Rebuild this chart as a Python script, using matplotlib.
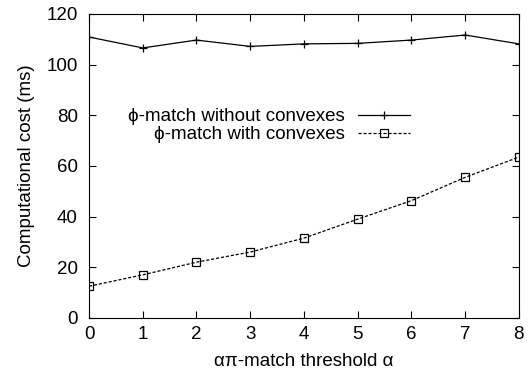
import matplotlib
matplotlib.use('Agg')
import matplotlib.pyplot as plt

plt.rcParams['font.family'] = ['Liberation Sans', 'DejaVu Sans']

# threshold values
alpha = [0, 1, 2, 3, 4, 5, 6, 7, 8]
# cost in ms
without_convexes = [110.9, 106.6, 109.7, 107.2, 108.2, 108.4, 109.7, 111.7, 108.2]
with_convexes = [12.5, 17.0, 22.0, 26.0, 31.5, 39.0, 46.3, 55.5, 63.5]

fs = 13.5

fig = plt.figure(figsize=(5.3, 3.78), dpi=100)
ax = fig.add_axes([0.168, 0.159, 0.811, 0.804])

ax.plot(alpha, without_convexes, color='black', lw=0.9, marker='+', ms=6, mew=0.9,
        label='\u03d5-match without convexes')
ax.plot(alpha, with_convexes, color='black', lw=0.9, ls=(0, (2.5, 1.5)), marker='s', ms=6,
        mfc='none', mew=0.9, label='\u03d5-match with convexes')

ax.set_xlim(0, 8)
ax.set_ylim(0, 120)
ax.set_xticks(range(0, 9))
ax.set_yticks(range(0, 121, 20))
ax.tick_params(direction='in', top=True, right=True, labelsize=fs, length=5, width=0.8)
ax.tick_params(axis='y', pad=8)
ax.tick_params(axis='x', pad=6)
for s in ax.spines.values():
    s.set_linewidth(0.8)
ax.set_xlabel('\u03b1\u03c0-match threshold \u03b1', fontsize=fs, labelpad=7)
ax.set_ylabel('Computational cost (ms)', fontsize=fs, labelpad=8)

ax.legend(loc='upper right', bbox_to_anchor=(0.747, 0.69), frameon=False, markerfirst=False,
          fontsize=fs, handlelength=2.8, borderpad=0, borderaxespad=0, labelspacing=0.05,
          handletextpad=0.7)

fig.savefig('out.png', dpi=100)
